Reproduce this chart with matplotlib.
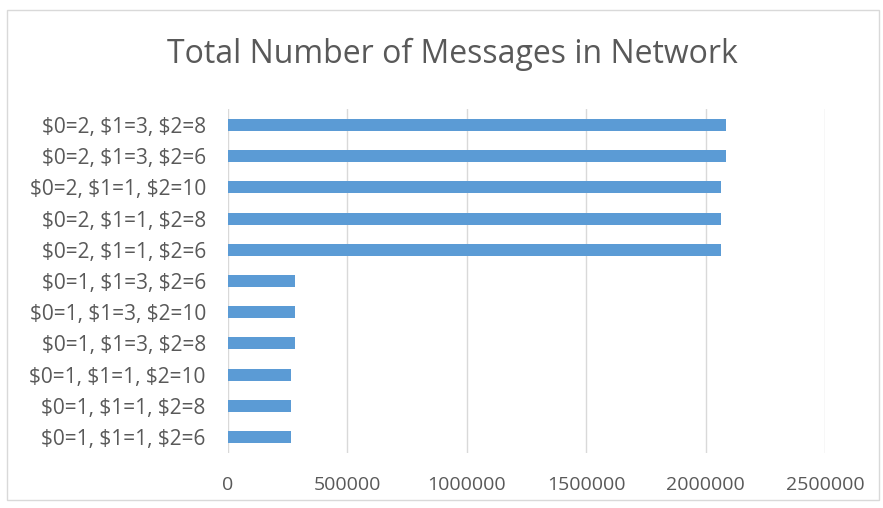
import numpy as np
import matplotlib
matplotlib.use("Agg")
import matplotlib.pyplot as plt
import matplotlib.patches as mpatches

#####################
### Data
#####################
labels = ["$0=1, $1=1, $2=6", "$0=1, $1=1, $2=8", "$0=1, $1=1, $2=10",
          "$0=1, $1=3, $2=8", "$0=1, $1=3, $2=10", "$0=1, $1=3, $2=6",
          "$0=2, $1=1, $2=6", "$0=2, $1=1, $2=8", "$0=2, $1=1, $2=10",
          "$0=2, $1=3, $2=6", "$0=2, $1=3, $2=8"]
messages = [264000, 264000, 264000,
            282000, 282000, 282000,
            2064000, 2064000, 2064000,
            2087000, 2087000]
xticks = [0, 500000, 1000000, 1500000, 2000000, 2500000]

#####################
### Plot
#####################
plt.rcParams["font.family"] = ["Open Sans", "DejaVu Sans"]
plt.rcParams["text.parse_math"] = False

fig = plt.figure(figsize=(8.83, 5.08), dpi=100)
ax = fig.add_axes([228/883, 1-452.6/508, (825-228)/883, (452.6-109.4)/508])

# outer chart border
fig.patches.append(mpatches.Rectangle((7/883, 1-500/508), 872/883, 490/508,
                                      transform=fig.transFigure, fill=False,
                                      edgecolor="#d9d9d9", linewidth=1.0))

y = np.arange(len(labels))
ax.barh(y, messages, height=0.39, color="#5b9bd5", zorder=3)

ax.set_xlim(0, 2500000)
ax.set_ylim(-0.5, len(labels) - 0.5)
ax.set_xticks(xticks)
ax.set_xticklabels([str(v) for v in xticks])
ax.set_yticks(y)
ax.set_yticklabels(labels)
ax.grid(axis="x", color="#d9d9d9", linewidth=1.0, zorder=0)
for s in ax.spines.values():
    s.set_visible(False)
ax.tick_params(axis="both", length=0, colors="#595959", labelsize=14)
ax.tick_params(axis="x", pad=17)
ax.tick_params(axis="y", pad=16, labelsize=15)

fig.text(452/883, 1-54/508, "Total Number of Messages in Network",
         ha="center", va="center", fontsize=23, color="#595959")

plt.savefig("out.png", dpi=100)
